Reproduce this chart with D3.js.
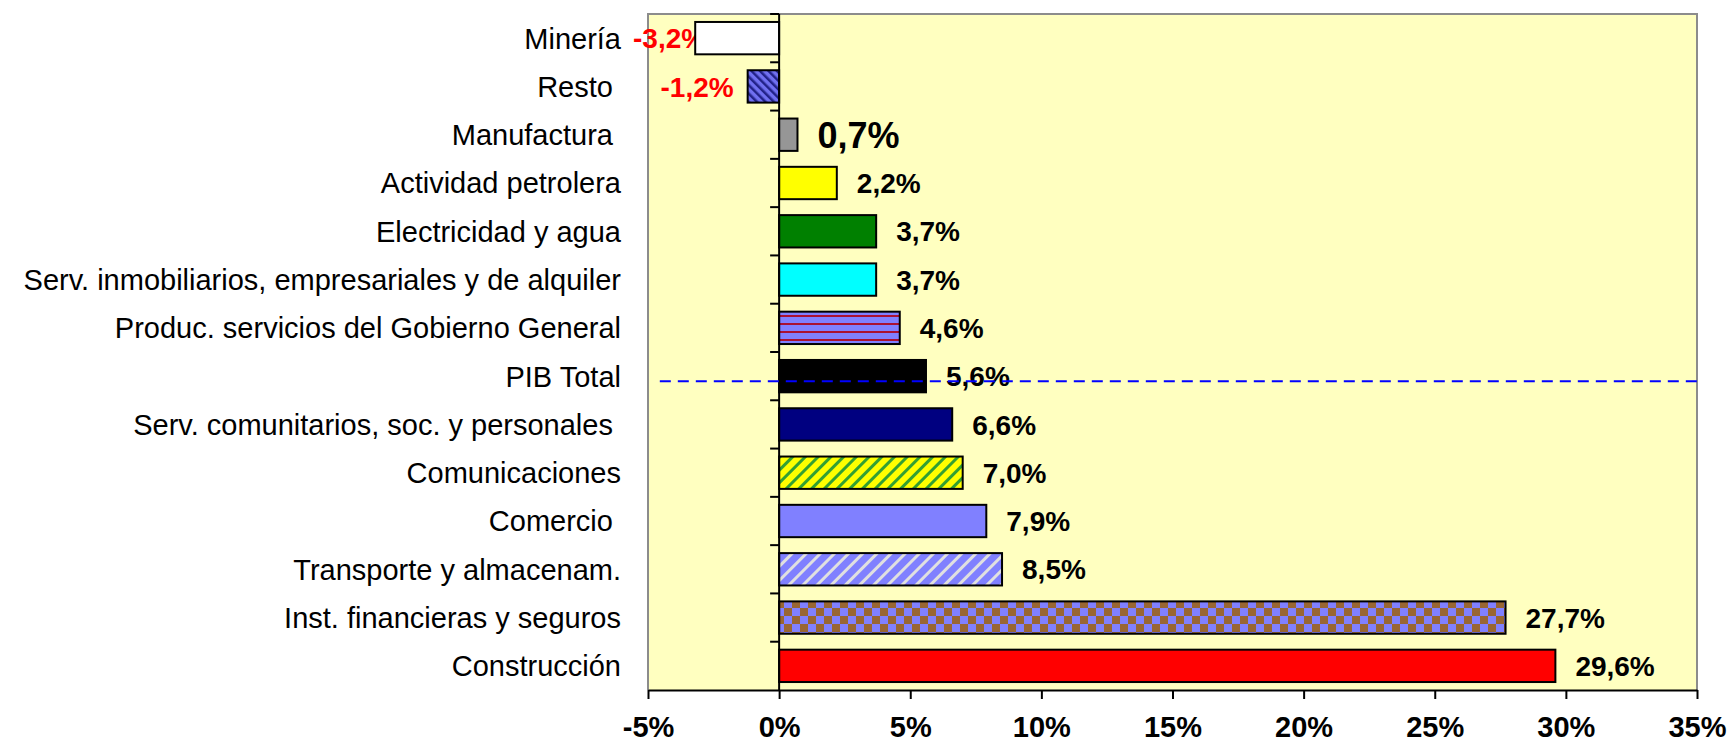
<!DOCTYPE html>
<html>
<head>
<meta charset="utf-8">
<script src="https://cdn.jsdelivr.net/npm/d3@7"></script>
<style>
    body { margin: 0; background: #ffffff; }
    svg text { font-family: "Liberation Sans", Arial, sans-serif; white-space: pre; }
</style>
</head>
<body>
<script>
'use strict';

// sectors, top to bottom
const sectors = [
    "Minería",
    "Resto ",
    "Manufactura ",
    "Actividad petrolera",
    "Electricidad y agua",
    "Serv. inmobiliarios, empresariales y de alquiler",
    "Produc. servicios del Gobierno General",
    "PIB Total",
    "Serv. comunitarios, soc. y personales ",
    "Comunicaciones",
    "Comercio ",
    "Transporte y almacenam.",
    "Inst. financieras y seguros",
    "Construcción"
];

// growth, %
const growth = [-3.2, -1.2, 0.7, 2.2, 3.7, 3.7, 4.6, 5.6, 6.6, 7.0, 7.9, 8.5, 27.7, 29.6];

// fill for each bar (plain colour or pattern id)
const fills = [
    "#ffffff", "url(#resto)", "#969696", "#ffff00", "#008000", "#00ffff",
    "url(#gobierno)", "#000000", "#000080", "url(#comunic)", "#8080ff",
    "url(#transp)", "url(#finan)", "#ff0000"
];

const xTicks = [-5, 0, 5, 10, 15, 20, 25, 30, 35];
const totalLabel = "PIB Total";

const width = 1733, height = 743;
const plot = { left: 648, right: 1697, top: 14, bottom: 690 };

const svg = d3.select('body')
    .append('svg')
    .attr('width', width)
    .attr('height', height);

// patterns
const defs = svg.append('defs');

let p = defs.append('pattern').attr('id', 'resto')
    .attr('patternUnits', 'userSpaceOnUse')
    .attr('width', 6).attr('height', 6)
    .attr('patternTransform', 'rotate(-45)');
p.append('rect').attr('width', 6).attr('height', 6).attr('fill', '#7070f0');
p.append('rect').attr('width', 2.5).attr('height', 6).attr('fill', '#222288');

p = defs.append('pattern').attr('id', 'gobierno')
    .attr('patternUnits', 'userSpaceOnUse')
    .attr('width', 8).attr('height', 8);
p.append('rect').attr('width', 8).attr('height', 8).attr('fill', '#8080ff');
p.append('rect').attr('y', 3).attr('width', 8).attr('height', 2).attr('fill', '#aa1133');

p = defs.append('pattern').attr('id', 'comunic')
    .attr('patternUnits', 'userSpaceOnUse')
    .attr('width', 9).attr('height', 9)
    .attr('patternTransform', 'rotate(45)');
p.append('rect').attr('width', 9).attr('height', 9).attr('fill', '#ffff00');
p.append('rect').attr('width', 3).attr('height', 9).attr('fill', '#33a033');

p = defs.append('pattern').attr('id', 'transp')
    .attr('patternUnits', 'userSpaceOnUse')
    .attr('width', 10).attr('height', 10)
    .attr('patternTransform', 'rotate(45)');
p.append('rect').attr('width', 10).attr('height', 10).attr('fill', '#8080ff');
p.append('rect').attr('width', 3).attr('height', 10).attr('fill', '#e0e0e0');

p = defs.append('pattern').attr('id', 'finan')
    .attr('patternUnits', 'userSpaceOnUse')
    .attr('width', 16).attr('height', 16);
p.append('rect').attr('width', 16).attr('height', 16).attr('fill', '#8080ff');
p.append('rect').attr('width', 8).attr('height', 8).attr('fill', '#996633');
p.append('rect').attr('x', 8).attr('y', 8).attr('width', 8).attr('height', 8).attr('fill', '#996633');

// scales
let xScale = d3.scaleLinear()
    .domain([-5, 35])
    .range([plot.left, plot.right]);

let yScale = d3.scaleBand()
    .domain(sectors)
    .range([plot.top, plot.bottom])
    .paddingInner(0.33)
    .paddingOuter(0.165);

let step = yScale.step();

// plot background
svg.append('rect')
    .attr('x', plot.left)
    .attr('y', plot.top)
    .attr('width', plot.right - plot.left)
    .attr('height', plot.bottom - plot.top)
    .attr('fill', '#ffffc0');

// gray frame on left, top, right
svg.append('path')
    .attr('d', `M${plot.left},${plot.bottom}V${plot.top}H${plot.right}V${plot.bottom}`)
    .attr('fill', 'none')
    .attr('stroke', '#8c8c8c')
    .attr('stroke-width', 2);

// category labels
let yAxis = d3.axisLeft(yScale).tickSize(0).tickPadding(27);
let gy = svg.append('g')
    .attr('transform', `translate(${plot.left}, 0)`)
    .call(yAxis);
gy.select('.domain').remove();
gy.selectAll('.tick text')
    .attr('fill', '#000')
    .attr('dy', '0.36em')
    .style('font-size', '29px');

// value labels (drawn before bars, negative ones may slip under their bar)
let fmt = (v) => d3.format('.1f')(v).replace('.', ',').replace('−', '-') + '%';
svg.selectAll('.val')
    .data(sectors)
    .enter()
    .append('text')
    .attr('class', 'val')
    .attr('y', (d) => yScale(d) + yScale.bandwidth() / 2)
    .attr('dy', '0.36em')
    .attr('fill', (d, i) => growth[i] < 0 ? '#ff0000' : '#000')
    .style('font-weight', 'bold')
    .style('font-size', (d, i) => i == 2 ? '36px' : '28px')
    .text((d, i) => fmt(growth[i]))
    .attr('x', function (d, i) {
        if (growth[i] >= 0) return xScale(growth[i]) + 20;
        let w = this.getComputedTextLength();
        return Math.max(xScale(growth[i]) - 14 - w, plot.left - 15);
    });

// bars
svg.selectAll('.bar')
    .data(sectors)
    .enter()
    .append('rect')
    .attr('class', 'bar')
    .attr('x', (d, i) => xScale(Math.min(0, growth[i])))
    .attr('y', (d) => yScale(d))
    .attr('width', (d, i) => Math.abs(xScale(growth[i]) - xScale(0)))
    .attr('height', yScale.bandwidth())
    .attr('fill', (d, i) => fills[i])
    .attr('stroke', '#000')
    .attr('stroke-width', 2);

// zero line with category ticks
let zero = xScale(0);
svg.append('line')
    .attr('x1', zero).attr('x2', zero)
    .attr('y1', plot.top).attr('y2', plot.bottom)
    .attr('stroke', '#000')
    .attr('stroke-width', 2);

svg.selectAll('.ctick')
    .data(d3.range(sectors.length))
    .enter()
    .append('line')
    .attr('x1', zero - 9).attr('x2', zero)
    .attr('y1', (i) => plot.top + i * step)
    .attr('y2', (i) => plot.top + i * step)
    .attr('stroke', '#000')
    .attr('stroke-width', 2);

// x axis
let xAxis = d3.axisBottom(xScale)
    .tickValues(xTicks)
    .tickFormat((d) => d + '%')
    .tickSize(9)
    .tickSizeOuter(0)
    .tickPadding(17);

let gx = svg.append('g')
    .attr('transform', `translate(0, ${plot.bottom})`)
    .call(xAxis);
gx.select('.domain').attr('stroke', '#000').attr('stroke-width', 2);
gx.selectAll('.tick line').attr('stroke', '#000').attr('stroke-width', 2);
gx.selectAll('.tick text')
    .attr('fill', '#000')
    .style('font-size', '29px')
    .style('font-weight', 'bold');

// PIB reference line
svg.append('line')
    .attr('x1', xScale(-4.55))
    .attr('x2', plot.right)
    .attr('y1', yScale(totalLabel) + yScale.bandwidth() / 2 + 5)
    .attr('y2', yScale(totalLabel) + yScale.bandwidth() / 2 + 5)
    .attr('stroke', '#0000ff')
    .attr('stroke-width', 2)
    .attr('stroke-dasharray', '11,7');
</script>
</body>
</html>
